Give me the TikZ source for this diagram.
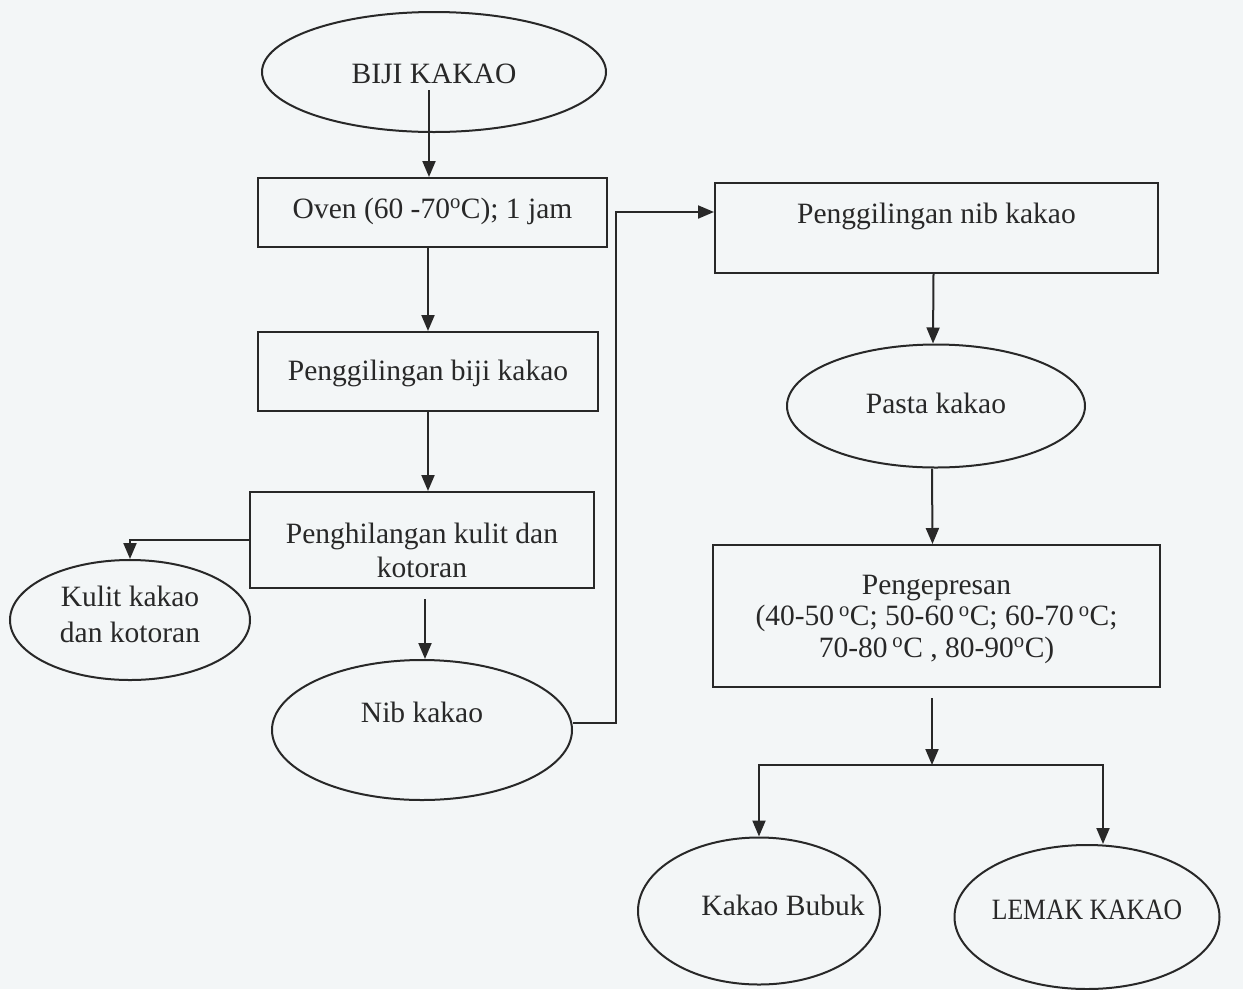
\documentclass[tikz,border=0pt]{standalone}
\usepackage{fontspec}
\setmainfont{Liberation Serif}
\usetikzlibrary{shapes.geometric,arrows.meta}
\definecolor{bg}{RGB}{243,246,247}
\definecolor{ink}{RGB}{40,40,40}
% text placed by its last baseline: raised #2 and moved right #1 from the node centre, taking no room
\newcommand{\placetxt}[3][0pt]{\makebox[0pt]{\hspace*{#1}\hspace*{#1}\raisebox{#2}[0pt][0pt]{\begin{tabular}[b]{@{}c@{}}#3\end{tabular}}}}
\begin{document}
\begin{tikzpicture}[x=1pt,y=-1pt,
  every node/.style={font=\fontsize{29.5}{34}\selectfont, text=ink, inner sep=0pt},
  procbox/.style={draw=ink, line width=2pt, rectangle},
  endell/.style={draw=ink, line width=2pt, ellipse},
  flow/.style={draw=ink, line width=2pt, -{Triangle[width=13pt,length=16pt]}}]
\path[fill=bg] (0,0) rectangle (1243,989);
\useasboundingbox (0,0) rectangle (1243,989);

\node[endell, minimum width=344pt, minimum height=120pt] (biji) at (434,72) {\placetxt{-11pt}{BIJI KAKAO}};
\node[procbox, minimum width=349pt, minimum height=69pt] (oven) at (432.5,212.5) {\placetxt{-5.5pt}{Oven (60 -70\textsuperscript{o}C); 1 jam}};
\node[procbox, minimum width=340pt, minimum height=79pt] (pbiji) at (428,371.5) {\placetxt{-8.5pt}{Penggilingan biji kakao}};
\node[procbox, minimum width=344pt, minimum height=96pt] (phil) at (422,540) {\placetxt{-37pt}{Penghilangan kulit dan\\kotoran}};
\node[endell, minimum width=240pt, minimum height=120pt, font=\fontsize{29.5}{36}\selectfont] (kulit) at (130,620) {\placetxt{-22pt}{Kulit kakao\\dan kotoran}};
\node[endell, minimum width=300pt, minimum height=140pt] (nib) at (422,730) {\placetxt{8pt}{Nib kakao}};
\node[procbox, minimum width=443pt, minimum height=90pt] (pnib) at (936.5,228) {\placetxt{5pt}{Penggilingan nib kakao}};
\node[endell, minimum width=298pt, minimum height=123pt] (pasta) at (936,406) {\placetxt{-7pt}{Pasta kakao}};
\node[procbox, minimum width=447pt, minimum height=142pt, font=\fontsize{29.5}{31.5}\selectfont] (peng) at (936.5,616) {\placetxt{-41pt}{Pengepresan\\(40-50\,\textsuperscript{o}C; 50-60\,\textsuperscript{o}C; 60-70\,\textsuperscript{o}C;\\70-80\,\textsuperscript{o}C , 80-90\textsuperscript{o}C)}};
\node[endell, minimum width=242pt, minimum height=147pt] (bubuk) at (759,911) {\placetxt[24pt]{-4pt}{Kakao Bubuk}};
\node[endell, minimum width=265pt, minimum height=144pt] (lemak) at (1087,917) {\placetxt{-2pt}{\scalebox{0.87}[1]{LEMAK KAKAO}}};

\coordinate (j) at (932,765);

\draw[flow] ([yshift=-18pt,xshift=-5pt]biji.center) -- ([xshift=-3.5pt]oven.north);
\draw[flow] (pbiji.north |- oven.south) -- (pbiji.north);
\draw[flow] (pbiji.south) -- (pbiji.south |- phil.north);
\draw[flow] (phil.west) -| (kulit.north);
\draw[flow] ([yshift=-10pt,xshift=3pt]phil.south) -- ([xshift=3pt]nib.north);
\draw[flow] ([yshift=7pt]nib.east) -- ++(43,0) |- ([yshift=16pt]pnib.west);
\draw[flow] ([xshift=-3pt]pnib.south) -- ([xshift=-3pt]pasta.north);
\draw[flow] ([xshift=-4pt]pasta.south) -- ([xshift=-4pt]peng.north);
\draw[flow] (j |- peng.south) ++(0,10) -- (j);
\draw[flow] (j) -| (bubuk.north);
\draw[flow] (j) -| ([xshift=16pt]lemak.north);
\end{tikzpicture}
\end{document}
